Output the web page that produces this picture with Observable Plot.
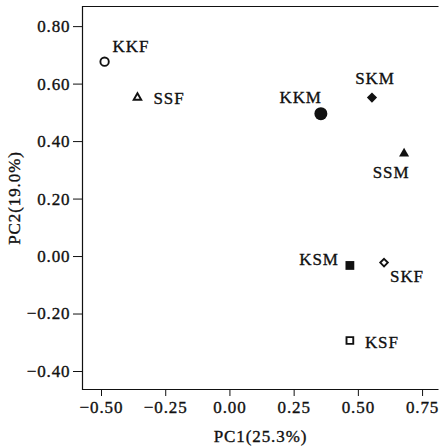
<!DOCTYPE html>
<html><head><meta charset="utf-8">
<script src="https://cdn.jsdelivr.net/npm/d3@7"></script>
<script src="https://cdn.jsdelivr.net/npm/@observablehq/plot@0.6"></script>
<style>
html,body{margin:0;padding:0;background:#fff;}
svg text{stroke:#111;stroke-width:0.35px;}
</style></head><body><div id="chart"></div>
<script>
// ---- data ----
const samples = ["KKF", "SSF", "KKM", "SKM", "SSM", "KSM", "SKF", "KSF"];
const pc1 = [-0.488, -0.360, 0.354, 0.553, 0.678, 0.467, 0.600, 0.467];
const pc2 = [0.678, 0.553, 0.497, 0.553, 0.358, -0.031, -0.021, -0.292];
const xTicks = [-0.5, -0.25, 0, 0.25, 0.5, 0.75];
const yTicks = [-0.4, -0.2, 0, 0.2, 0.4, 0.6, 0.8];
const xTitle = "PC1(25.3%)";
const yTitle = "PC2(19.0%)";

// ---- layout / style ----
const W = 439, H = 447, mL = 82, mR = 1, mT = 6, mB = 58;
const fw = W - mL - mR, fh = H - mT - mB;
const ink = "#111";
const fontFamily = '"Liberation Serif","Times New Roman",serif';

const data = samples.map((name, i) => ({name, pc1: pc1[i], pc2: pc2[i], pair: name.slice(0, 2), sex: name.slice(2)}));
const radius = {F: {KK: 4.2, SS: 3.6, SK: 3.4, KS: 4.3}, M: {KK: 6.5, SS: 4.8, SK: 4.6, KS: 5.6}};
const placement = {
  KKF: {dx: 8, dy: -15, anchor: "start"},
  SSF: {dx: 16, dy: 1, anchor: "start"},
  KKM: {dx: 1, dy: -16, anchor: "end"},
  SKM: {dx: 3, dy: -19, anchor: "middle"},
  SSM: {dx: -13, dy: 19, anchor: "middle"},
  KSM: {dx: -11, dy: -6, anchor: "end"},
  SKF: {dx: 6, dy: 14, anchor: "start"},
  KSF: {dx: 15, dy: 2, anchor: "start"}
};
const fmt = d3.format(".2f");

const labels = data.map(d => {
  const p = placement[d.name];
  return Plot.text([d], {x: "pc1", y: "pc2", text: "name", dx: p.dx, dy: p.dy, textAnchor: p.anchor, fill: ink, fontSize: 17});
});

const plot = Plot.plot({
  width: W, height: H,
  marginLeft: mL, marginRight: mR, marginTop: mT, marginBottom: mB,
  style: {fontFamily, fontSize: "17px", color: ink, background: "#fff", letterSpacing: "0.9px"},
  x: {domain: [-0.574, 0.812]},
  y: {domain: [-0.4626, 0.87]},
  r: {type: "identity"},
  symbol: {domain: ["KK", "SS", "SK", "KS"], range: ["circle", "triangle2", "diamond2", "square2"]},
  marks: [
    Plot.frame({stroke: ink, strokeWidth: 1.2, strokeDasharray: `${fw} ${fh} ${fw + fh}`}),
    Plot.axisX(xTicks, {tickSize: 7, tickPadding: 4, tickFormat: fmt, label: xTitle, labelAnchor: "center", labelArrow: "none", labelOffset: 52, fontSize: 17}),
    Plot.axisY(yTicks, {tickSize: 9, tickPadding: 3, tickFormat: fmt, label: yTitle, labelAnchor: "center", labelArrow: "none", labelOffset: 75, fontSize: 17}),
    Plot.dot(data.filter(d => d.sex === "M"), {x: "pc1", y: "pc2", symbol: "pair", r: d => radius.M[d.pair], fill: ink, stroke: "none"}),
    Plot.dot(data.filter(d => d.sex === "F"), {x: "pc1", y: "pc2", symbol: "pair", r: d => radius.F[d.pair], fill: "#fff", stroke: ink, strokeWidth: 1.9}),
    ...labels
  ]
});
document.getElementById("chart").appendChild(plot);
</script>
</body></html>
